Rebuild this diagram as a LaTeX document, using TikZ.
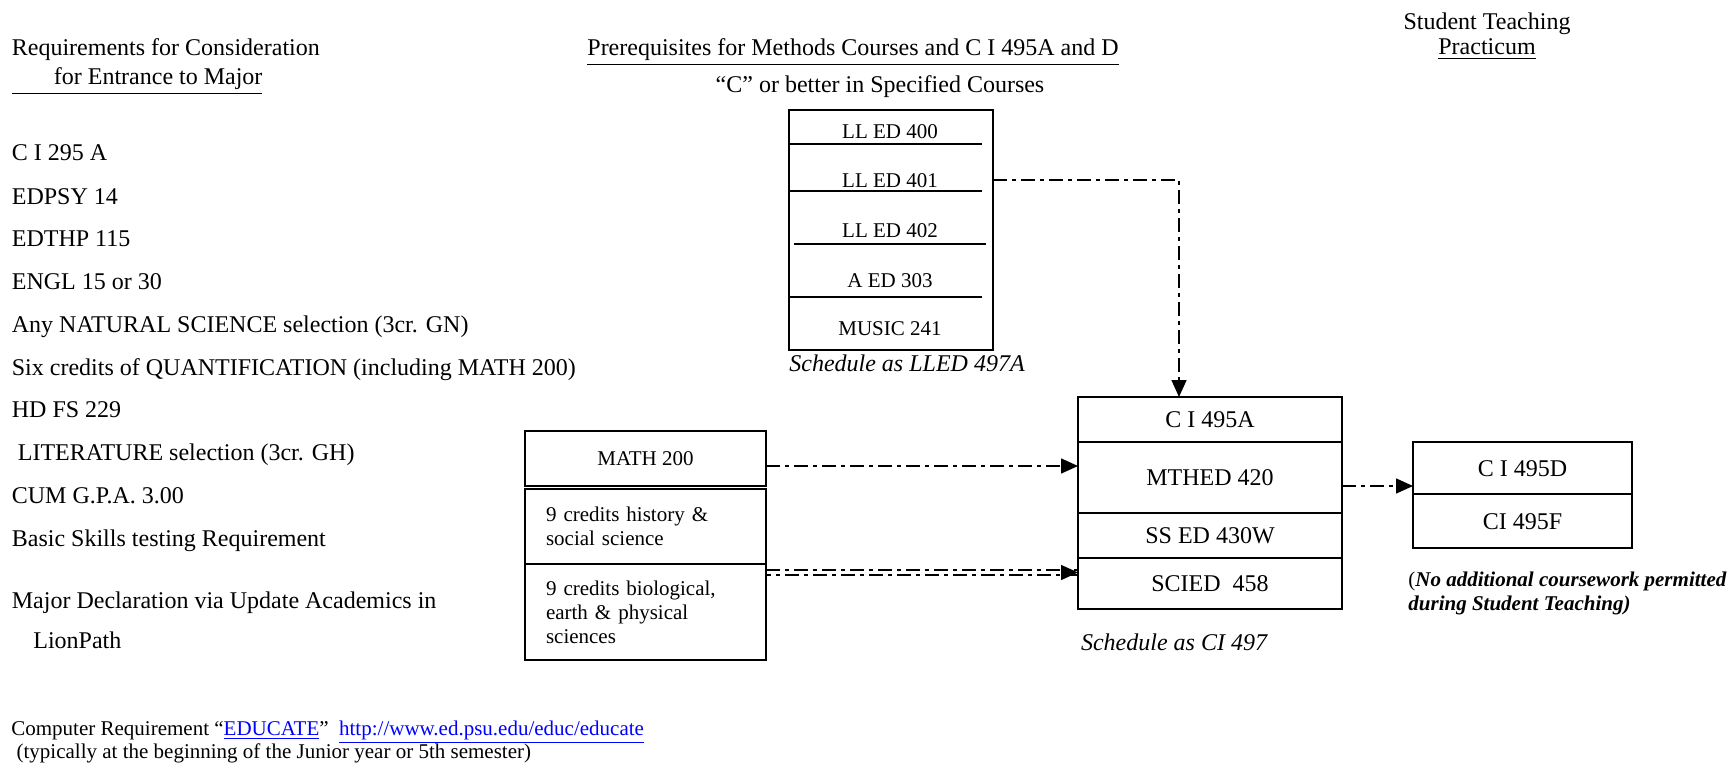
\documentclass[tikz,border=0pt]{standalone}
\usepackage{fontspec}
\setmainfont{Liberation Serif}
\usetikzlibrary{arrows.meta,positioning}

\begin{document}
\begin{tikzpicture}[x=0.5pt,y=-0.5pt,
        font=\fontsize{12}{14}\selectfont,
        txt/.style={anchor=west,inner sep=0pt,text height=8pt,text depth=0pt},
        smalltxt/.style={inner sep=0pt,text height=7pt,text depth=0pt,font=\fontsize{10.5}{12}\selectfont},
        cell/.style={draw,line width=0.7pt,inner sep=0pt,outer sep=0pt,text height=8pt,text depth=0pt},
        smallcell/.style={cell,text height=7pt,font=\fontsize{10.5}{12}\selectfont},
        smallblock/.style={draw,line width=0.7pt,inner sep=0pt,outer sep=0pt,font=\fontsize{10.5}{12}\selectfont},
        dashdot/.style={line width=0.75pt,dash pattern=on 7pt off 2.5pt on 2pt off 2.5pt},
        tip/.style={-{Triangle[length=8.5pt,width=7.5pt]}},
        flow/.style={dashdot,tip}]

        \useasboundingbox (0,0) rectangle (1734,765);

        % Column headings
        \node[txt] (reqhead) at (11.5,48) {Requirements for Consideration};
        \node[txt] (reqhead2) at (11.5,77) {\underline{\hspace{21pt}for Entrance to Major}};
        \node[txt] (prehead) at (587,48) {\underline{Prerequisites for Methods Courses and C I 495A and D}};
        \node[txt,anchor=center] (grade) at (880,85) {“C” or better in Specified Courses};
        \node[txt,anchor=center] (sthead) at (1487,22) {Student Teaching};
        \node[txt,anchor=center] (pracHead) at (1487,47) {\underline{Practicum}};

        % Entrance requirements
        \node[txt] (ci295) at (11.5,153) {C I 295 A};
        \node[txt] (edpsy) at (11.5,196) {EDPSY 14};
        \node[txt] (edthp) at (11.5,238) {EDTHP 115};
        \node[txt] (engl) at (11.5,281) {ENGL 15 or 30};
        \node[txt] (natsci) at (11.5,324) {Any NATURAL SCIENCE selection (3cr. GN)};
        \node[txt] (quant) at (11.5,367) {Six credits of QUANTIFICATION (including MATH 200)};
        \node[txt] (hdfs) at (11.5,409) {HD FS 229};
        \node[txt] (lit) at (17.5,452) {LITERATURE selection (3cr. GH)};
        \node[txt] (gpa) at (11.5,495) {CUM G.P.A. 3.00};
        \node[txt] (skills) at (11.5,538) {Basic Skills testing Requirement};
        \node[txt] (declare) at (11.5,600) {Major Declaration via Update Academics in};
        \node[txt] (lionpath) at (33,640) {LionPath};

        % LL ED block
        \node[cell,minimum width=102pt,minimum height=120pt,anchor=north west] (lledbox) at (789,110) {};
        \node[smalltxt] (lled400) at (890,132) {LL ED 400};
        \node[smalltxt] (lled401) at (890,180) {LL ED 401};
        \node[smalltxt] (lled402) at (890,230) {LL ED 402};
        \node[smalltxt] (aed303) at (890,280) {A ED 303};
        \node[smalltxt] (music241) at (890,328) {MUSIC 241};
        \draw[line width=0.7pt] (790,144) -- (982,144);
        \draw[line width=0.7pt] (790,191) -- (982,191);
        \draw[line width=0.7pt] (794,244) -- (986,244);
        \draw[line width=0.7pt] (790,297) -- (982,297);
        \node[txt,anchor=center] (lledsched) at (907,363) {\itshape Schedule as LLED 497A};

        % Methods courses
        \node[cell,minimum width=132pt,minimum height=22.5pt,anchor=north west] (ci495a) at (1078,397) {C I 495A};
        \node[cell,minimum width=132pt,minimum height=35.5pt,below=0pt of ci495a] (mthed) {MTHED 420};
        \node[cell,minimum width=132pt,minimum height=22.5pt,below=0pt of mthed] (ssed) {SS ED 430W};
        \node[cell,minimum width=132pt,minimum height=25.5pt,below=0pt of ssed] (scied) {SCIED\ \ 458};
        \node[txt,anchor=center] (cisched) at (1174,642) {\itshape Schedule as CI 497};

        % Prerequisite boxes
        \node[smallcell,minimum width=120.5pt,minimum height=27.5pt,anchor=north west] (math) at (525,431) {MATH 200};
        \node[smallblock,minimum width=120.5pt,minimum height=37.5pt,inner xsep=10.5pt,text width=99.5pt,align=left,below=1.5pt of math] (hist) {9 credits history \&\\social science};
        \node[smallblock,minimum width=120.5pt,minimum height=48pt,inner xsep=10.5pt,text width=99.5pt,align=left,below=0pt of hist] (bio) {9 credits biological,\\earth \& physical\\sciences};

        % Student teaching
        \node[cell,minimum width=109.5pt,minimum height=26pt,anchor=north west] (ci495d) at (1413,442) {C I 495D};
        \node[cell,minimum width=109.5pt,minimum height=27pt,below=0pt of ci495d] (ci495f) {CI 495F};
        \node[anchor=west,inner sep=0pt,align=left,font=\fontsize{10.5}{12}\selectfont] (nowork) at (1408,593) {(\textbf{\textit{No additional coursework permitted}}\\\textbf{\textit{during Student Teaching)}}};

        % Connectors
        \coordinate (drop) at (1179,180);
        \draw[flow] (lled401 -| lledbox.east) -- (drop) -- (drop |- ci495a.north);
        \draw[flow] ([yshift=-3.75pt]math.east) -- ([yshift=-3.75pt]math.east -| mthed.west);
        \coordinate (bioA) at ([yshift=-3pt]bio.north east);
        \coordinate (bioB) at ([yshift=-5.5pt]bio.north east);
        \coordinate (bioTip) at ([yshift=-4.25pt]bio.north east -| scied.west);
        \draw[dashdot] (bioA) -- (bioA -| scied.west);
        \draw[dashdot,dash phase=4.5pt] (bioB) -- (bioB -| scied.west);
        \draw[tip,line width=0.75pt] ([xshift=-8.5pt]bioTip) -- (bioTip);
        \draw[flow] ([yshift=-4.25pt]mthed.east) -- ([yshift=-4.25pt]mthed.east -| ci495d.west);

        % Computer requirement
        \node[smalltxt,anchor=west] (educate) at (11,728) {Computer Requirement “{\color{blue}\underline{EDUCATE}}”\ \ {\color{blue}\underline{http://www.ed.psu.edu/educ/educate}}};
        \node[smalltxt,anchor=west] (typically) at (11,751) {\ (typically at the beginning of the Junior year or 5th semester)};

    \end{tikzpicture}
\end{document}
